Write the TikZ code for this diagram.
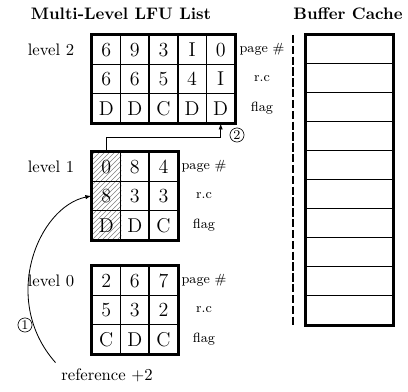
\documentclass[tikz,border=0pt]{standalone}
\usepackage{tikz}
\usetikzlibrary{arrows.meta,patterns,backgrounds}

\begin{document}
\begin{tikzpicture}[x=0.6pt,y=-0.6pt,
  cell/.style={draw,line width=0.9pt,minimum width=17.2pt,minimum height=17.6pt,inner sep=0pt,font=\large},
  slot/.style={draw,line width=0.6pt,minimum width=52.2pt,minimum height=17.4pt,inner sep=0pt},
  field/.style={font=\footnotesize},
  circnum/.style={draw,shape=circle,inner sep=0.6pt,font=\footnotesize},
  hatched/.style={pattern=north east lines,pattern color=gray},
  frame/.style={line width=1.5pt}]

  \useasboundingbox (0,0) rectangle (408,392);

  % Titles
  \node[font=\bfseries] (listtitle) at (121,14) {Multi-Level LFU List};
  \node[font=\bfseries] (cachetitle) at (348,14) {Buffer Cache};

  % Specification of the levels (cells, labels)
  \node (lev2) at (51,49.7) {level 2};
  \foreach \row [count=\i] in {{6,9,3,I,0},{6,6,5,4,I},{D,D,C,D,D}}
    \foreach \v [count=\j] in \row
      \node[cell] (l2-\i-\j) at (92+28.6*\j-14.3,35+29.3*\i-14.65) {\v};
  \draw[frame] (l2-1-1.north west) rectangle (l2-3-5.south east);
  \node[field] (l2-page) at (262,49.7) {page \#};
  \node[field] (l2-rc) at (262,79) {r.c};
  \node[field] (l2-flag) at (262,108.3) {flag};

  \node (lev1) at (51,166.7) {level 1};
  \foreach \row [count=\i] in {{0,8,4},{8,3,3},{D,D,C}}
    \foreach \v [count=\j] in \row
      \node[cell] (l1-\i-\j) at (92+28.6*\j-14.3,152+29.3*\i-14.65) {\v};
  \draw[frame] (l1-1-1.north west) rectangle (l1-3-3.south east);
  \node[field] (l1-page) at (204,166.7) {page \#};
  \node[field] (l1-rc) at (204,196) {r.c};
  \node[field] (l1-flag) at (204,225.3) {flag};

  \node (lev0) at (51,280.7) {level 0};
  \foreach \row [count=\i] in {{2,6,7},{5,3,2},{C,D,C}}
    \foreach \v [count=\j] in \row
      \node[cell] (l0-\i-\j) at (92+28.6*\j-14.3,266+29.3*\i-14.65) {\v};
  \draw[frame] (l0-1-1.north west) rectangle (l0-3-3.south east);
  \node[field] (l0-page) at (204,280.7) {page \#};
  \node[field] (l0-rc) at (204,310) {r.c};
  \node[field] (l0-flag) at (204,339.3) {flag};

  \begin{scope}[on background layer]
    \fill[hatched] (l1-1-1.north west) rectangle (l1-3-1.south east);
  \end{scope}

  % Buffer cache
  \foreach \k in {1,...,10}
    \node[slot] (buf-\k) at (349.5,35+29*\k-14.5) {};
  \draw[frame] (buf-1.north west) rectangle (buf-10.south east);
  \coordinate (dtop) at (293,35);
  \coordinate (dbot) at (293,325);
  \draw[line width=1.2pt,dash pattern=on 5pt off 1.5pt] (dtop) -- (dbot);

  % Steps
  \node (ref) at (107,375) {reference +2};
  \node[circnum] (n1) at (25,325) {1};
  \node[circnum] (n2) at (237,135) {2};

  \begin{scope}[line width=0.5pt,-{Latex[length=3.5pt,width=2.6pt]}]
    \draw (ref.north west) .. controls (0,300) and (38,207) .. (l1-2-1.west);
    \draw (l1-1-1.north) -- ++(0,-14) -| (l2-3-5.south);
  \end{scope}

\end{tikzpicture}
\end{document}
